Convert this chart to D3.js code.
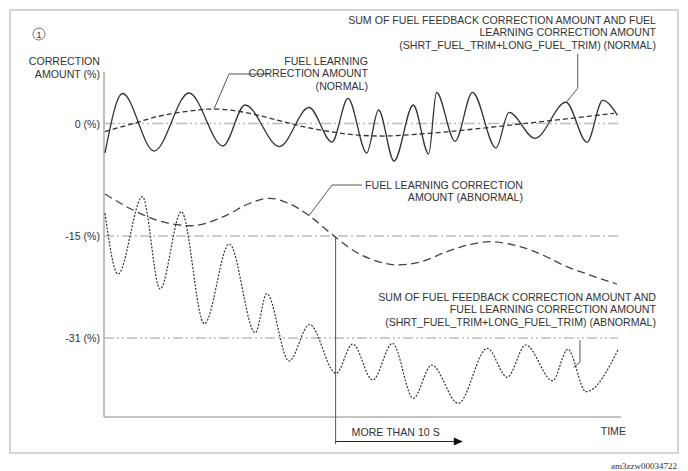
<!DOCTYPE html>
<html>
<head>
<meta charset="utf-8">
<script src="https://cdn.jsdelivr.net/npm/d3@7"></script>
<style>
  html, body { margin: 0; padding: 0; background: #fff; }
  svg { display: block; }
  text { font-family: "Liberation Sans", Arial, sans-serif; fill: #333; }
</style>
</head>
<body>
<svg id="chart" width="688" height="471"></svg>
<script>
// ---- Data (time in arbitrary seconds, values in %) ----
const yTickValues = [0, -15, -31];
const yTickLabels = ["0 (%)", "-15 (%)", "-31 (%)"];

// Sum of feedback + learning correction (normal) – solid
const normalSum = [
  [0.1,-3.93],[1.79,4.0],[4.84,-3.67],[8.22,4.07],[11.51,-3.0],[13.64,2.47],
  [16.97,-3.07],[19.83,2.13],[22.05,-2.47],[23.60,3.36],[25.41,-3.93],[26.55,1.8],
  [28.05,-5.0],[29.91,2.47],[31.40,-4.07],[32.16,4.13],[33.95,-2.37],[35.64,4.16],
  [37.91,-3.27],[39.17,1.49],[41.68,-1.97],[44.68,2.83],[46.71,-2.51],[48.23,3.09],
  [49.66,1.09]
];
// Fuel learning correction amount (normal) – dashed
const normalLearning = [
  [0.1,-1.07],[2.51,-0.13],[5.42,1.0],[8.32,1.67],[10.44,1.93],[13.15,1.6],
  [15.57,0.87],[18.96,-0.33],[21.86,-1.09],[24.76,-1.57],[26.89,-1.67],[30.56,-1.4],
  [35.40,-0.8],[40.23,-0.07],[45.07,0.67],[49.32,1.36]
];
// Fuel learning correction amount (abnormal) – long dashed
const abnormalLearning = [
  [0.1,-9.4],[2.80,-11.53],[5.71,-13.13],[8.41,-13.63],[11.9,-12.2],[13.83,-10.8],
  [15.96,-9.97],[17.99,-10.73],[19.83,-12.27],[22.24,-15.0],[24.27,-17.43],[26.69,-19.08],
  [28.34,-19.55],[30.56,-19.08],[33.17,-17.46],[35.40,-16.33],[37.33,-15.89],[40.23,-16.68],
  [42.65,-18.14],[44.39,-19.55],[47.0,-21.12],[49.61,-22.53]
];
// Sum of feedback + learning correction (abnormal) – dotted
const abnormalSum = [
  [0.1,-11.97],[1.35,-20.96],[3.72,-9.76],[5.42,-23.31],[7.48,-11.76],[9.70,-28.76],
  [12.12,-16.25],[14.63,-30.17],[15.74,-24.05],[17.89,-34.61],[19.87,-28.88],[22.44,-36.54],
  [24.05,-31.94],[25.99,-37.59],[27.90,-31.83],[29.91,-40.46],[31.69,-35.24],[34.26,-41.24],
  [37.07,-32.62],[39.0,-37.16],[40.78,-32.1],[43.39,-37.7],[44.85,-32.77],[46.62,-39.42],
  [49.74,-32.77]
];
const markerTime = 22.4;     // start of "more than 10 s"
const arrowEndTime = 34.7;

// ---- Scales ----
const svg = d3.select("#chart");
const x = d3.scaleLinear().domain([0, 50]).range([104, 621]);
const y = d3.scaleLinear().domain([-31, -15, 0]).range([338, 236, 123.5]);
const yTop = 72, yBottom = 417;

// frame
svg.append("rect").attr("x", 10).attr("y", 10).attr("width", 668).attr("height", 443)
  .attr("fill", "none").attr("stroke", "#d4d4d4").attr("stroke-width", 2);

// circled 1
svg.append("circle").attr("cx", 39).attr("cy", 34).attr("r", 6)
  .attr("fill", "none").attr("stroke", "#555").attr("stroke-width", 0.8);
svg.append("text").attr("x", 39).attr("y", 37.5).attr("text-anchor", "middle")
  .style("font-size", "9px").text("1");

// axis title
svg.append("text").attr("x", 100).attr("y", 65).attr("text-anchor", "end")
  .style("font-size", "10.6px").text("CORRECTION");
svg.append("text").attr("x", 100).attr("y", 78).attr("text-anchor", "end")
  .style("font-size", "10.6px").text("AMOUNT (%)");

// reference lines
const refStyles = [
  { stroke: "#bdbdbd", width: 1.5, dash: "11,3,2,3,2,3" },
  { stroke: "#9a9a9a", width: 1, dash: "10,3,2,3" },
  { stroke: "#9a9a9a", width: 1, dash: "10,3,2,3,2,3" }
];
yTickValues.forEach((v, i) => {
  svg.append("line").attr("x1", x(0)).attr("x2", x(49.7))
    .attr("y1", y(v)).attr("y2", y(v))
    .attr("stroke", refStyles[i].stroke).attr("stroke-width", refStyles[i].width)
    .attr("stroke-dasharray", refStyles[i].dash);
  svg.append("text").attr("x", 100).attr("y", y(v) + 4).attr("text-anchor", "end")
    .style("font-size", "10.6px").text(yTickLabels[i]);
});

// axes
svg.append("line").attr("x1", x(0)).attr("x2", x(0)).attr("y1", yTop).attr("y2", yBottom)
  .attr("stroke", "#aaa").attr("stroke-width", 1.5);
svg.append("line").attr("x1", x(0)).attr("x2", x(50)).attr("y1", yBottom).attr("y2", yBottom)
  .attr("stroke", "#8a8a8a").attr("stroke-width", 1.2);

// curves
const line = d3.line().x(d => x(d[0])).y(d => y(d[1])).curve(d3.curveMonotoneX);
svg.append("path").datum(normalLearning).attr("d", line)
  .attr("fill", "none").attr("stroke", "#333").attr("stroke-width", 1.3).attr("stroke-dasharray", "5,3");
svg.append("path").datum(normalSum).attr("d", line)
  .attr("fill", "none").attr("stroke", "#333").attr("stroke-width", 1.3);
svg.append("path").datum(abnormalLearning).attr("d", line)
  .attr("fill", "none").attr("stroke", "#444").attr("stroke-width", 1.3).attr("stroke-dasharray", "8,4.5");
svg.append("path").datum(abnormalSum).attr("d", line)
  .attr("fill", "none").attr("stroke", "#333").attr("stroke-width", 1.2).attr("stroke-dasharray", "2,1.5");

// time marker
svg.append("line").attr("x1", x(markerTime)).attr("x2", x(markerTime))
  .attr("y1", y(-15)).attr("y2", 444).attr("stroke", "#555").attr("stroke-width", 1);
svg.append("line").attr("x1", x(markerTime)).attr("x2", x(arrowEndTime) - 8)
  .attr("y1", 441.5).attr("y2", 441.5).attr("stroke", "#222").attr("stroke-width", 1);
svg.append("path")
  .attr("d", `M${x(arrowEndTime)},441.5 L${x(arrowEndTime) - 9},437.5 L${x(arrowEndTime) - 9},445.5 Z`)
  .attr("fill", "#111");
svg.append("text").attr("x", x(markerTime) + 16).attr("y", 436)
  .style("font-size", "10.6px").text("MORE THAN 10 S");
svg.append("text").attr("x", 626).attr("y", 435).attr("text-anchor", "end")
  .style("font-size", "10.6px").text("TIME");

// annotations: anchor on curve (t, v), then pixel offsets
function leader(t, v, pts) {
  const x0 = x(t), y0 = y(v);
  const p = d3.path();
  p.moveTo(x0, y0);
  pts.forEach(([dx, dy]) => p.lineTo(x0 + dx, y0 + dy));
  svg.append("path").attr("d", p.toString()).attr("fill", "none")
    .attr("stroke", "#555").attr("stroke-width", 1);
}
function block(xr, y0, lines) {
  lines.forEach((s, i) => svg.append("text").attr("x", xr).attr("y", y0 + i * 12.3)
    .attr("text-anchor", "end").style("font-size", "10.6px").text(s));
}
// normal learning
leader(10.64, 1.93, [[15, -35], [54, -35]]);
block(368, 65, ["FUEL LEARNING", "CORRECTION AMOUNT", "(NORMAL)"]);
// normal sum
leader(44.75, 2.9, [[11, -13.5], [11, -48]]);
block(656, 24, ["SUM OF FUEL FEEDBACK CORRECTION AMOUNT AND FUEL",
                "LEARNING CORRECTION AMOUNT",
                "(SHRT_FUEL_TRIM+LONG_FUEL_TRIM) (NORMAL)"]);
// abnormal learning
leader(19.83, -12.27, [[23, -30.5], [53, -30.5]]);
block(523, 189, ["FUEL LEARNING CORRECTION", "AMOUNT (ABNORMAL)"]);
// abnormal sum
leader(45.4, -35.6, [[6.5, -5], [6.5, -27]]);
block(656, 301, ["SUM OF FUEL FEEDBACK CORRECTION AMOUNT AND",
                 "FUEL LEARNING CORRECTION AMOUNT",
                 "(SHRT_FUEL_TRIM+LONG_FUEL_TRIM) (ABNORMAL)"]);

// id
svg.append("text").attr("x", 677).attr("y", 469).attr("text-anchor", "end")
  .style("font-family", "'Liberation Serif', serif").style("font-size", "9px").text("am3zzw00034722");
</script>
</body>
</html>
